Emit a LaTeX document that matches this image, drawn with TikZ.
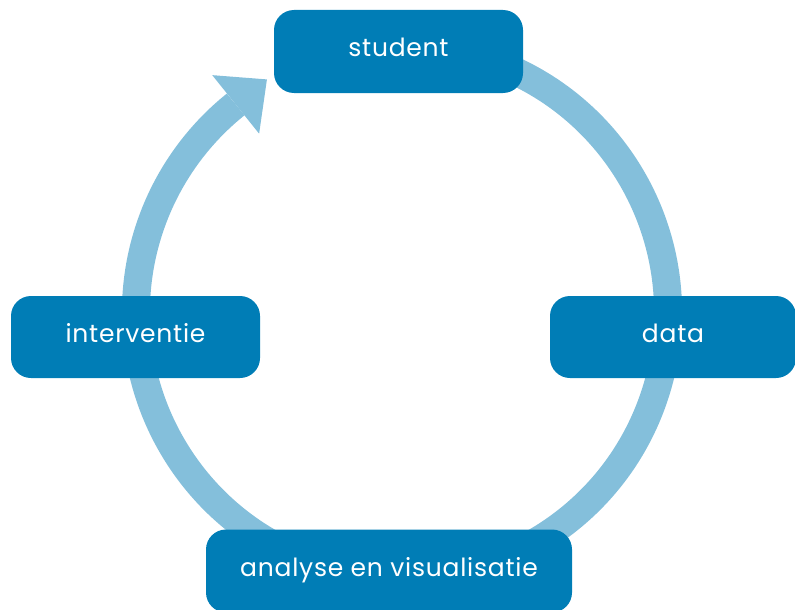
\documentclass[tikz,border=0pt]{standalone}
\usepackage{fontspec}
\setmainfont[LetterSpace=3]{Poppins}
\usetikzlibrary{calc}
\definecolor{boxblue}{HTML}{007DB6}
\definecolor{ringblue}{HTML}{84BFDB}
\begin{document}
\begin{tikzpicture}[x=1pt,y=-1pt,
  stage/.style={fill=boxblue, rounded corners=20pt, text=white, inner sep=0pt,
    font=\fontsize{25}{28}\selectfont, anchor=center, text depth=8pt},
  ring/.style={draw=ringblue, line width=28pt}]
\useasboundingbox (0,0) rectangle (795,610);
\coordinate (c) at (402,312);
% ring with arrow
\draw[ring] ($(c)+(-70:266)$) arc[start angle=-70, end angle=231.3, radius=266];
\coordinate (m) at ($(c)+(231.3:266)$);
\coordinate (tip) at ($(m)+(321.3:40)$);
\coordinate (b1) at ($(m)+(231.3:37.5)$);
\coordinate (b2) at ($(m)+(51.3:37.5)$);
\fill[ringblue] (b1) -- (tip) -- (b2) -- cycle;
% boxes
\node[stage, minimum width=249pt, minimum height=83pt] (student) at (398.5,51.5) {student};
\node[stage, minimum width=249pt, minimum height=82pt] (interventie) at (135.5,337) {interventie};
\node[stage, minimum width=246pt, minimum height=82pt] (data) at (673,337) {data};
\node[stage, minimum width=366pt, minimum height=83pt] (analyse) at (389,571) {analyse en visualisatie};
\end{tikzpicture}
\end{document}
